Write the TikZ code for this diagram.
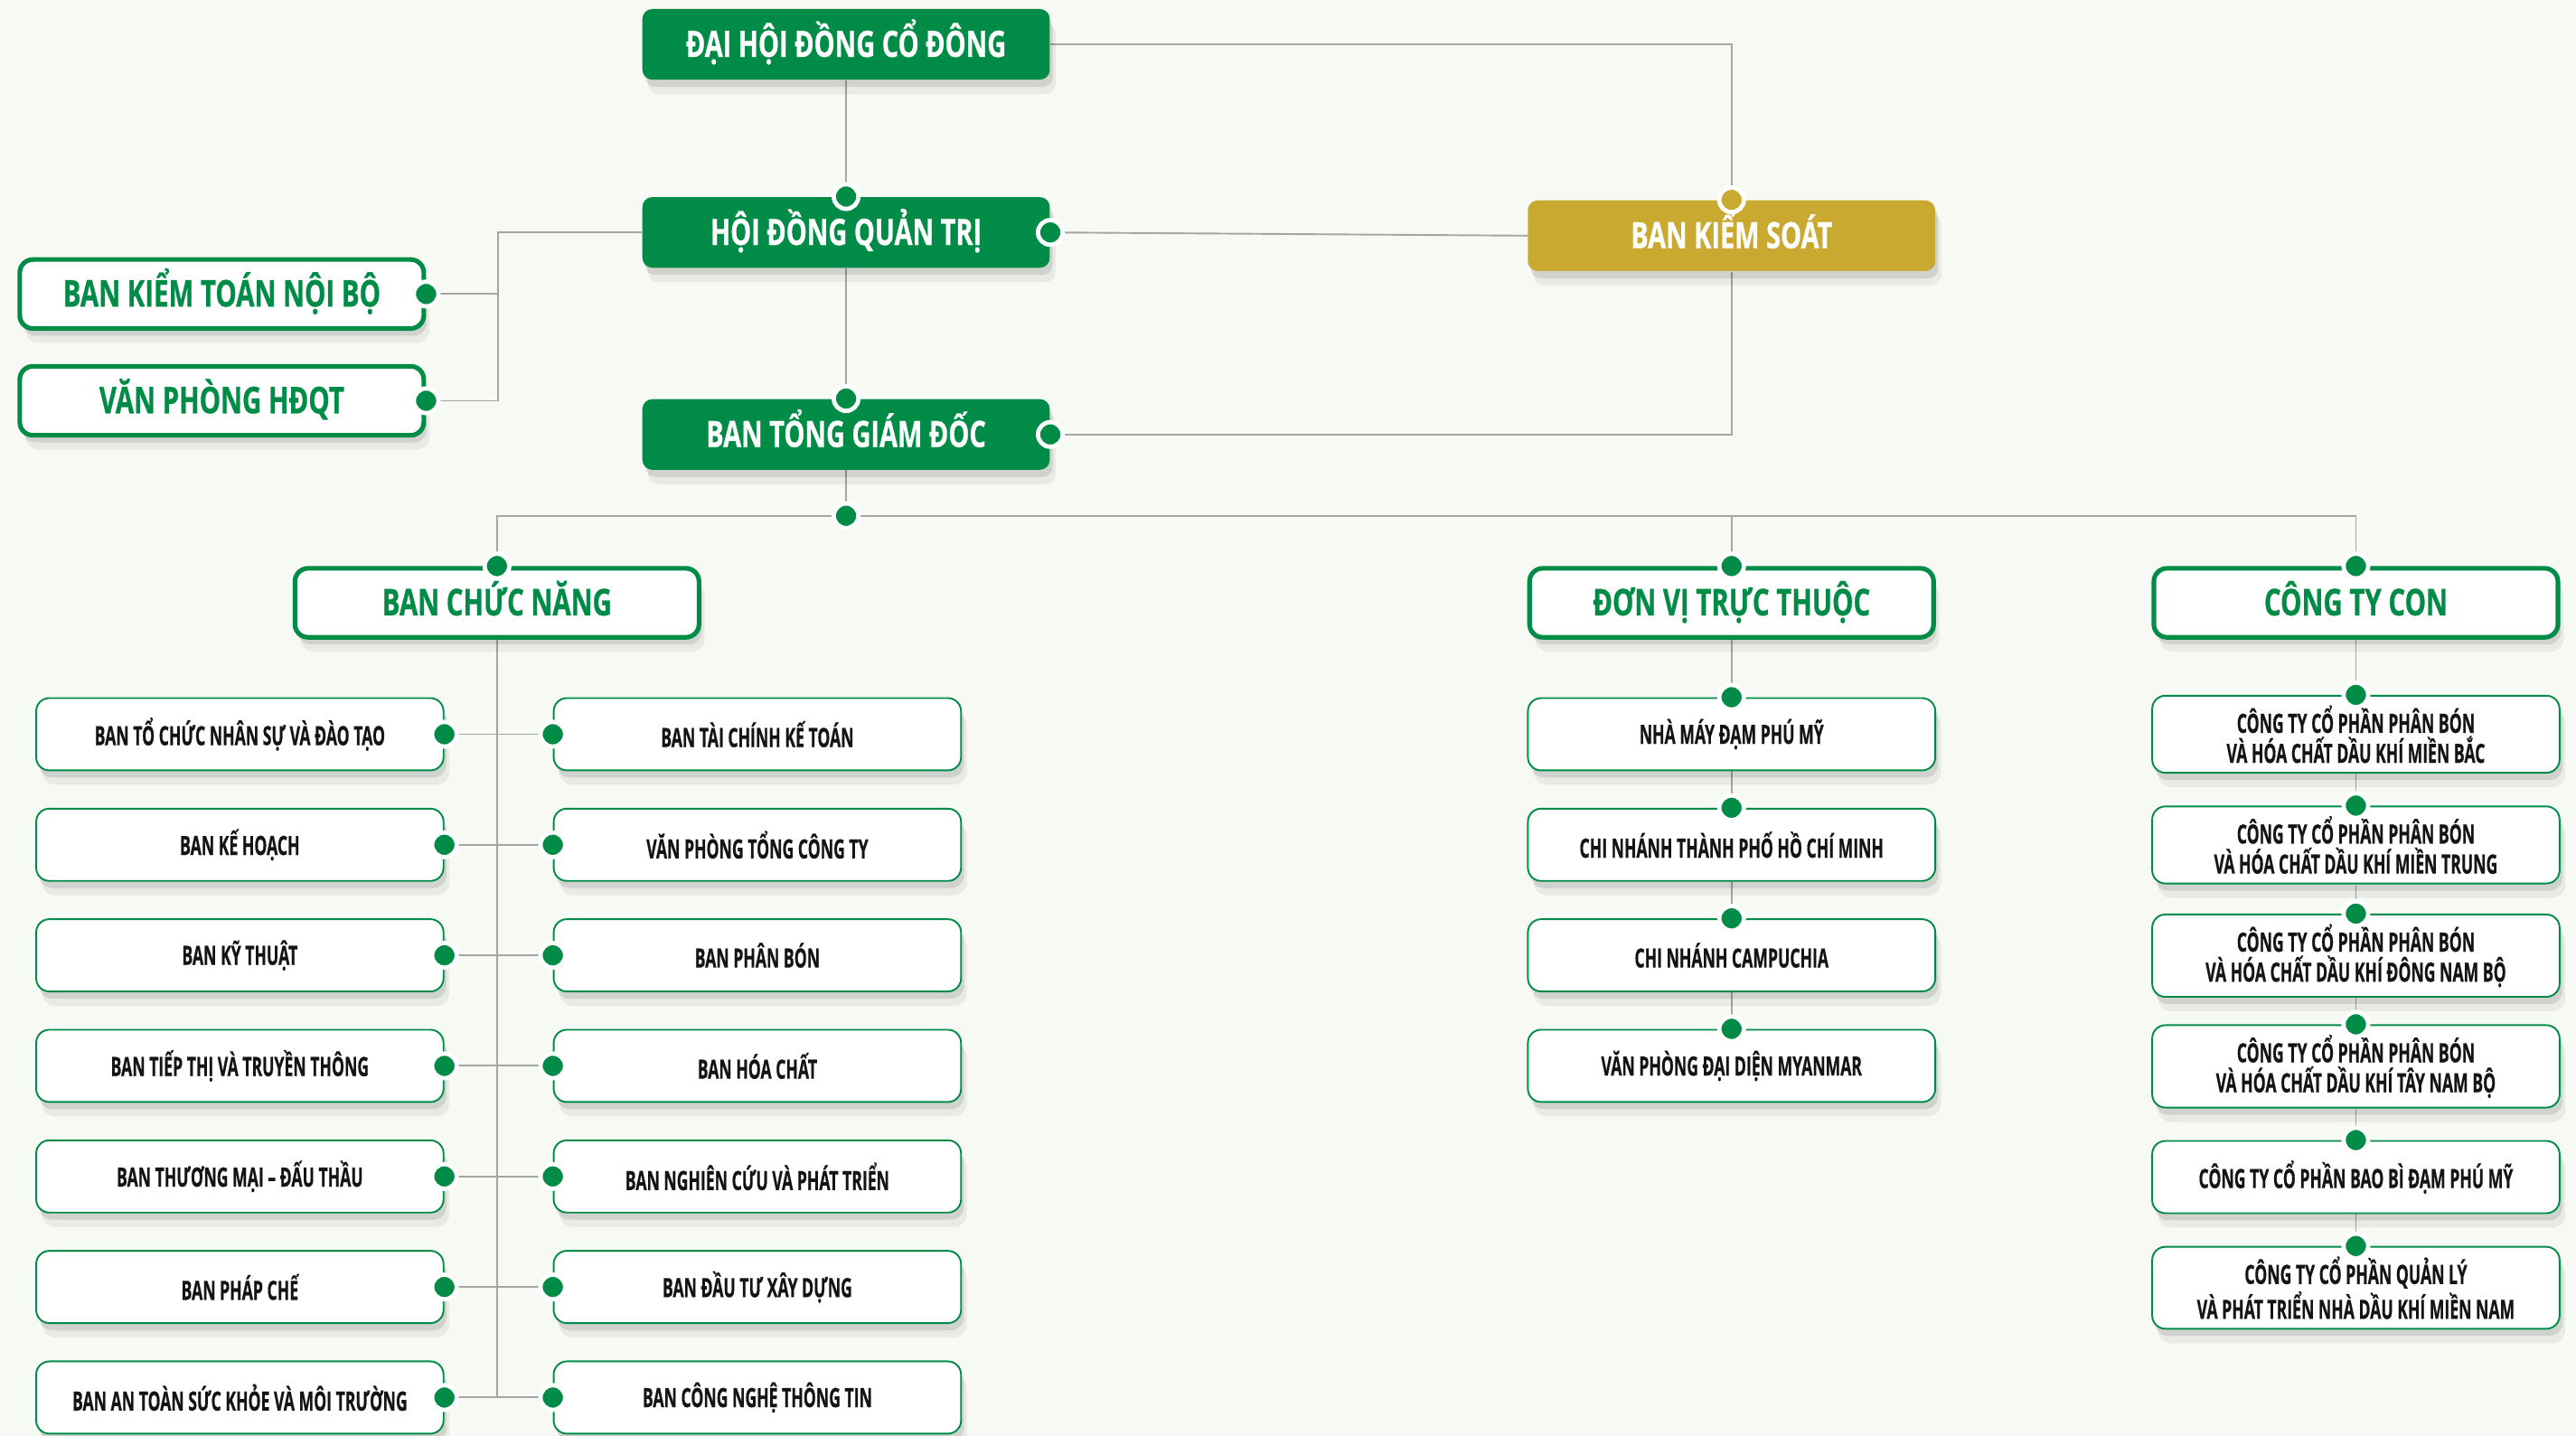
\documentclass[tikz,border=0pt]{standalone}
\usepackage{fontspec}
\setmainfont{Open Sans}
\newfontfamily\headfont{Open Sans}[FakeStretch=0.72, BoldFeatures={FakeBold=0.6}]
\newfontfamily\subfont{Open Sans}[FakeStretch=0.6, BoldFeatures={FakeBold=0.5}]
\usetikzlibrary{shadows}

\definecolor{pvgreen}{RGB}{0,140,70}
\definecolor{pvgold}{RGB}{201,169,48}
\definecolor{bgcol}{RGB}{247,249,245}
\definecolor{linecol}{RGB}{165,165,165}
\definecolor{subtext}{RGB}{20,20,20}

\pgfdeclarelayer{background}
\pgfdeclarelayer{lines}
\pgfsetlayers{background,lines,main}

\tikzset{
  boxshadow/.style={drop shadow={shadow xshift=2pt, shadow yshift=-5pt, opacity=0.06, fill=black},
    drop shadow={shadow xshift=1pt, shadow yshift=-2.5pt, opacity=0.1, fill=black}},
  mainbox/.style={rectangle, rounded corners=0.12cm, fill=pvgreen, text=white,
    minimum width=4.96cm, minimum height=0.86cm, boxshadow, text height=1.12em, text depth=0.25em,
    font=\headfont\bfseries\fontsize{12.6}{14}\selectfont},
  goldbox/.style={mainbox, fill=pvgold},
  headbox/.style={rectangle, rounded corners=0.16cm, draw=pvgreen, line width=1.6pt, fill=white,
    text=pvgreen, minimum width=4.92cm, minimum height=0.84cm, boxshadow, text height=1.12em, text depth=0.25em,
    font=\headfont\bfseries\fontsize{12.8}{14}\selectfont},
  subbox/.style={rectangle, rounded corners=0.16cm, draw=pvgreen, line width=0.6pt, fill=white,
    text=subtext, minimum width=4.96cm, minimum height=0.88cm, align=center, boxshadow,
    font=\subfont\bfseries\fontsize{9.2}{10.4}\selectfont},
  dot/.style={circle, fill=pvgreen, draw=white, line width=1.5pt, inner sep=0pt, minimum size=0.3cm},
  golddot/.style={dot, fill=pvgold},
  link/.style={draw=linecol, line width=0.6pt},
}

\begin{document}
\begin{tikzpicture}[x=0.02cm, y=-0.02cm]
  %\draw[color=gray, help lines, opacity=0.3] (0,0) grid[step=50] (1568,874); %help grids
  \begin{pgfonlayer}{background}
    \fill[bgcol] (0,0) rectangle (1568,874);
  \end{pgfonlayer}
  \useasboundingbox (0,0) rectangle (1568,874);

  \node[mainbox] (dhdcd) at (515,27) {ĐẠI HỘI ĐỒNG CỔ ĐÔNG};
  \node[mainbox] (hdqt) at (515,141.5) {HỘI ĐỒNG QUẢN TRỊ};
  \node[mainbox] (btgd) at (515,264.5) {BAN TỔNG GIÁM ĐỐC};
  \node[goldbox] (bks) at (1054,143.5) {BAN KIỂM SOÁT};
  \node[headbox] (bktnb) at (135,179) {BAN KIỂM TOÁN NỘI BỘ};
  \node[headbox] (vphdqt) at (135,244) {VĂN PHÒNG HĐQT};
  \node[headbox] (bcn) at (302.5,367) {BAN CHỨC NĂNG};
  \node[headbox] (dvtt) at (1054,367) {ĐƠN VỊ TRỰC THUỘC};
  \node[headbox] (ctcon) at (1434,367) {CÔNG TY CON};
  \coordinate (hdqtknee) at (303,141.5);

  \begin{pgfonlayer}{lines}
    \draw[link] (dhdcd.south) -- (hdqt.north);
    \draw[link] (hdqt.south) -- (btgd.north);
    \draw[link] (dhdcd.east) -| (bks.north);
    \draw[link] (hdqt.east) -- (bks.west);
    \draw[link] (btgd.east) -| (bks.south);
    \draw[link] (hdqt.west) -- (hdqtknee) |- (vphdqt.east);
    \draw[link] (hdqtknee) |- (bktnb.east);
  \end{pgfonlayer}
  \node[dot] (hdqttop) at (hdqt.north) {};
  \node[dot] (hdqtright) at (hdqt.east) {};
  \node[dot] (btgdtop) at (btgd.north) {};
  \node[dot] (btgdright) at (btgd.east) {};
  \node[golddot] (bkstop) at (bks.north) {};
  \node[dot] (bktnbdot) at (bktnb.east) {};
  \node[dot] (vphdqtdot) at (vphdqt.east) {};

  % ban chuc nang
  \node[dot] (split) at (515,314) {};
  \begin{pgfonlayer}{lines}
    \draw[link] (btgd.south) -- (split);
    \draw[link] (split) -| (bcn.north);
    \draw[link] (split) -| (dvtt.north);
    \draw[link] (split) -| (ctcon.north);
  \end{pgfonlayer}
  \node[dot] (bcndot) at (bcn.north) {};
  \node[dot] (dvttdot) at (dvtt.north) {};
  \node[dot] (ctcondot) at (ctcon.north) {};

  \foreach \i/\lname/\rname in {0/{BAN TỔ CHỨC NHÂN SỰ VÀ ĐÀO TẠO}/{BAN TÀI CHÍNH KẾ TOÁN},
      1/{BAN KẾ HOẠCH}/{VĂN PHÒNG TỔNG CÔNG TY},
      2/{BAN KỸ THUẬT}/{BAN PHÂN BÓN},
      3/{BAN TIẾP THỊ VÀ TRUYỀN THÔNG}/{BAN HÓA CHẤT},
      4/{BAN THƯƠNG MẠI – ĐẤU THẦU}/{BAN NGHIÊN CỨU VÀ PHÁT TRIỂN},
      5/{BAN PHÁP CHẾ}/{BAN ĐẦU TƯ XÂY DỰNG},
      6/{BAN AN TOÀN SỨC KHỎE VÀ MÔI TRƯỜNG}/{BAN CÔNG NGHỆ THÔNG TIN}}{
    \node[subbox] (bl\i) at (146,447+67.3*\i) {\lname};
    \node[subbox] (br\i) at (461,447+67.3*\i) {\rname};
    \begin{pgfonlayer}{lines}
      \draw[link] (bl\i.east) -- (br\i.west);
    \end{pgfonlayer}
    \node[dot] (bld\i) at (bl\i.east) {};
    \node[dot] (brd\i) at (br\i.west) {};
  }
  \begin{pgfonlayer}{lines}
    \draw[link] (bcn.south) -- (bcn.south |- bl6.east);
  \end{pgfonlayer}

  % don vi truc thuoc
  \foreach \i/\txt in {0/{NHÀ MÁY ĐẠM PHÚ MỸ}, 1/{CHI NHÁNH THÀNH PHỐ HỒ CHÍ MINH},
      2/{CHI NHÁNH CAMPUCHIA}, 3/{VĂN PHÒNG ĐẠI DIỆN MYANMAR}}{
    \node[subbox] (dv\i) at (1054,447+67.3*\i) {\txt};
  }
  % cong ty con
  \foreach \i/\txt in {0/{CÔNG TY CỔ PHẦN PHÂN BÓN\\VÀ HÓA CHẤT DẦU KHÍ MIỀN BẮC},
      1/{CÔNG TY CỔ PHẦN PHÂN BÓN\\VÀ HÓA CHẤT DẦU KHÍ MIỀN TRUNG},
      2/{CÔNG TY CỔ PHẦN PHÂN BÓN\\VÀ HÓA CHẤT DẦU KHÍ ĐÔNG NAM BỘ},
      3/{CÔNG TY CỔ PHẦN PHÂN BÓN\\VÀ HÓA CHẤT DẦU KHÍ TÂY NAM BỘ},
      4/{CÔNG TY CỔ PHẦN BAO BÌ ĐẠM PHÚ MỸ},
      5/{CÔNG TY CỔ PHẦN QUẢN LÝ\\VÀ PHÁT TRIỂN NHÀ DẦU KHÍ MIỀN NAM}}{
    \node[subbox] (ct\i) at (1434,447+67.4*\i) {\txt};
  }
  \begin{pgfonlayer}{lines}
    \draw[link] (dvtt.south) -- (dv0.north);
    \draw[link] (ctcon.south) -- (ct0.north);
    \foreach \i/\j in {0/1,1/2,2/3}
      \draw[link] (dv\i.south) -- (dv\j.north);
    \foreach \i/\j in {0/1,1/2,2/3,3/4,4/5}
      \draw[link] (ct\i.south) -- (ct\j.north);
  \end{pgfonlayer}
  \foreach \i in {0,...,3}
    \node[dot] (dvd\i) at (dv\i.north) {};
  \foreach \i in {0,...,5}
    \node[dot] (ctd\i) at (ct\i.north) {};
\end{tikzpicture}
\end{document}
